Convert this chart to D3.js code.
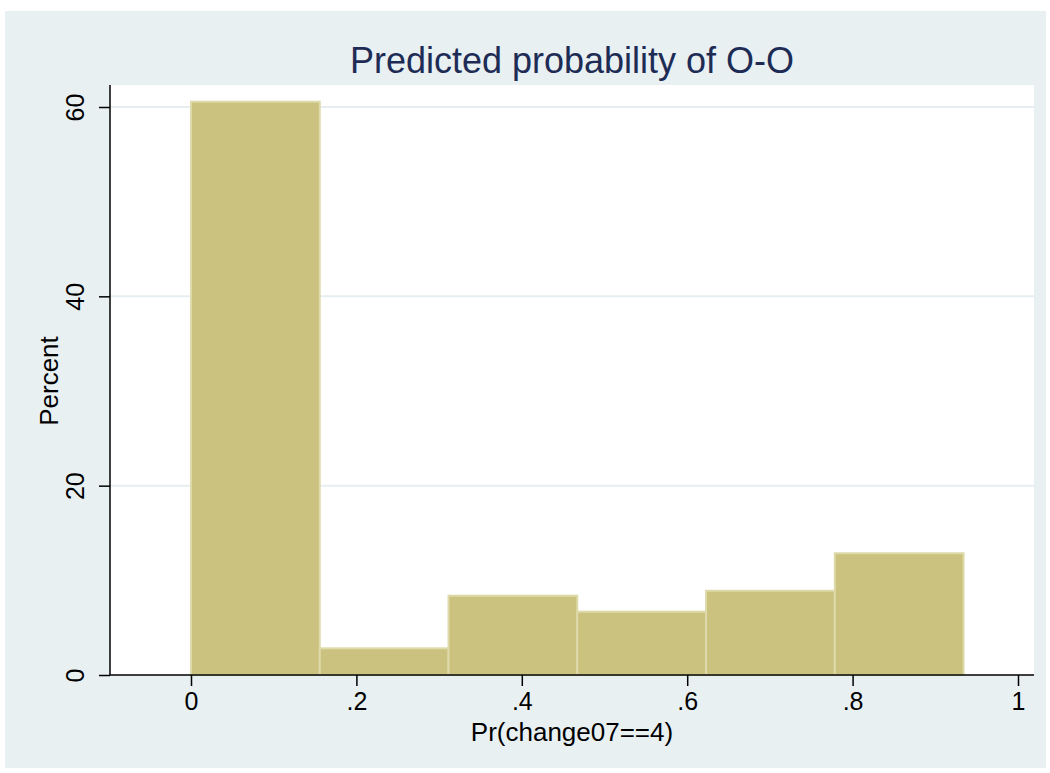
<!DOCTYPE html>
<html>
<head>
<meta charset="utf-8">
<script src="https://cdn.jsdelivr.net/npm/d3@7"></script>
<style>
  body { margin: 0; background: #ffffff; }
  text { font-family: Arial, "Liberation Sans", sans-serif; }
</style>
</head>
<body>
<div id="chart"></div>
<script>
// histogram bins (Pr(change07==4)) and percent per bin
var binEdges = [0, 0.1557, 0.3114, 0.4671, 0.6228, 0.7785, 0.9342];
var percents = [60.56, 2.82, 8.38, 6.69, 8.9, 12.86];
var xTicks = [0, 0.2, 0.4, 0.6, 0.8, 1];
var xTickLabels = ["0", ".2", ".4", ".6", ".8", "1"];
var yTicks = [0, 20, 40, 60];

var W = 1050, H = 773;
var plot = { left: 110, top: 85, right: 1034, bottom: 675 };

var svg = d3.select("#chart")
    .append("svg")
    .attr("width", W)
    .attr("height", H);

// outer graph region
svg.append("rect")
    .attr("x", 5).attr("y", 11)
    .attr("width", 1041).attr("height", 757)
    .attr("fill", "#e8f0f2");

// plot region
svg.append("rect")
    .attr("x", plot.left).attr("y", plot.top)
    .attr("width", plot.right - plot.left)
    .attr("height", plot.bottom - plot.top)
    .attr("fill", "#ffffff");

var x = d3.scaleLinear().domain([0, 1]).range([191, 1018]);
var y = d3.scaleLinear().domain([0, 60]).range([plot.bottom, 107]);

// gridlines
svg.append("g")
    .selectAll("line")
    .data(yTicks.filter(function(d) { return d > 0; }))
    .enter().append("line")
    .attr("x1", plot.left).attr("x2", plot.right)
    .attr("y1", function(d) { return y(d); })
    .attr("y2", function(d) { return y(d); })
    .attr("stroke", "#e6eef1")
    .attr("stroke-width", 2);

// bars
svg.append("g")
    .selectAll("rect")
    .data(percents)
    .enter().append("rect")
    .attr("x", function(d, i) { return x(binEdges[i]); })
    .attr("width", function(d, i) { return x(binEdges[i + 1]) - x(binEdges[i]); })
    .attr("y", function(d) { return y(d); })
    .attr("height", function(d) { return y(0) - y(d); })
    .attr("fill", "#cac27e")
    .attr("stroke", "#dedaaa")
    .attr("stroke-width", 2);

// x axis
var xAxis = d3.axisBottom(x)
    .tickValues(xTicks)
    .tickFormat(function(d, i) { return xTickLabels[i]; })
    .tickSize(11)
    .tickPadding(6);

var gx = svg.append("g")
    .attr("transform", "translate(0," + plot.bottom + ")")
    .call(xAxis);
gx.select(".domain").attr("d", "M" + plot.left + ",0H" + plot.right);
gx.selectAll("line, path").attr("stroke", "#000").attr("stroke-width", 1.5);
gx.selectAll("text").attr("font-size", 25).attr("fill", "#000")
    .attr("font-family", "Arial, 'Liberation Sans', sans-serif");

// y axis
var yAxis = d3.axisLeft(y)
    .tickValues(yTicks)
    .tickSize(11)
    .tickPadding(6);

var gy = svg.append("g")
    .attr("transform", "translate(" + plot.left + ",0)")
    .call(yAxis);
gy.select(".domain").attr("d", "M0," + plot.top + "V" + plot.bottom);
gy.selectAll("line, path").attr("stroke", "#000").attr("stroke-width", 1.5);
gy.selectAll("text")
    .attr("font-size", 25).attr("fill", "#000")
    .attr("font-family", "Arial, 'Liberation Sans', sans-serif")
    .attr("text-anchor", "middle")
    .attr("dy", 0)
    .attr("x", 0)
    .attr("transform", "translate(-26,0) rotate(-90)");

// title
svg.append("text")
    .attr("x", (plot.left + plot.right) / 2)
    .attr("y", 73)
    .attr("text-anchor", "middle")
    .attr("font-size", 36)
    .attr("fill", "#1e2c55")
    .text("Predicted probability of O-O");

// axis titles
svg.append("text")
    .attr("x", 572)
    .attr("y", 741)
    .attr("text-anchor", "middle")
    .attr("font-size", 26)
    .attr("fill", "#000")
    .text("Pr(change07==4)");

svg.append("text")
    .attr("transform", "translate(58,381) rotate(-90)")
    .attr("text-anchor", "middle")
    .attr("font-size", 26)
    .attr("fill", "#000")
    .text("Percent");
</script>
</body>
</html>
